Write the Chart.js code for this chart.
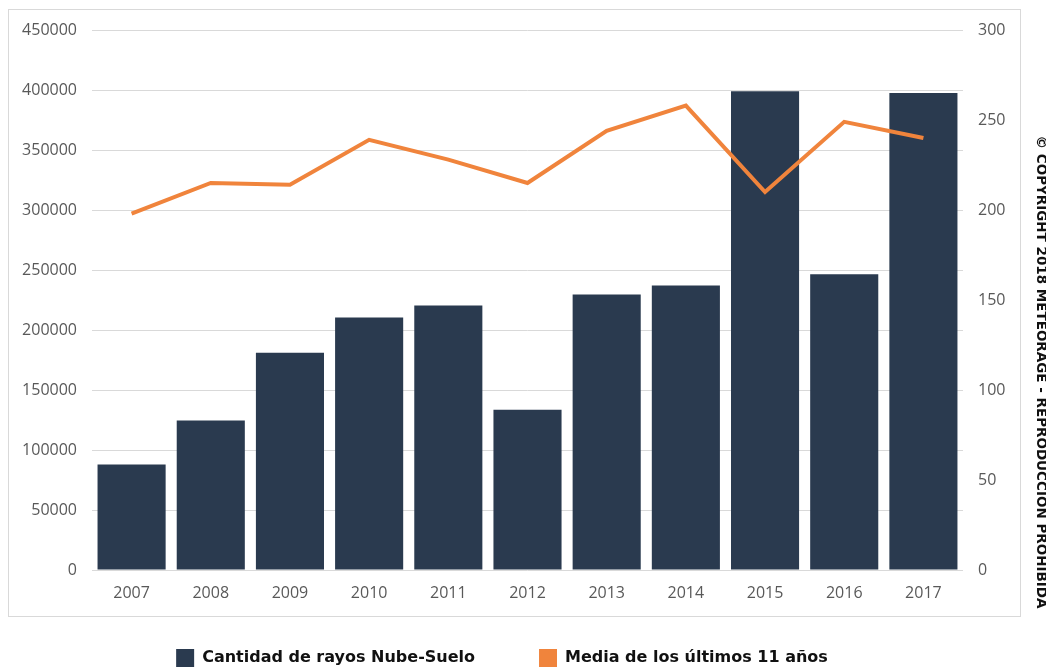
<!DOCTYPE html>
<html>
<head>
<meta charset="utf-8">
<script src="https://cdn.jsdelivr.net/npm/chart.js@4.4.1/dist/chart.umd.min.js"></script>
<style>
  html, body { margin: 0; padding: 0; background: #fff; }
  #wrap { width: 1046px; height: 667px; }
</style>
</head>
<body>
<div id="wrap"><canvas id="chart"></canvas></div>
<script>
var years = ["2007", "2008", "2009", "2010", "2011", "2012", "2013", "2014", "2015", "2016", "2017"];
var rayos = [88000, 124500, 181000, 210500, 220500, 133500, 229500, 237000, 399000, 246500, 397500];
var media = [198, 215, 214, 239, 228, 215, 244, 258, 210, 249, 240];
var copyrightText = "© COPYRIGHT 2018 METEORAGE - REPRODUCCIÓN PROHIBIDA";

var frame = {
  id: "frame",
  beforeDraw: function (chart) {
    var a = chart.chartArea;
    var c = chart.ctx;
    c.save();
    c.fillStyle = "#fff";
    c.fillRect(0, 0, chart.width, chart.height);
    c.strokeStyle = "#d9d9d9";
    c.lineWidth = 1;
    c.strokeRect(a.left - 83.5, a.top - 20.5, (a.right + 57) - (a.left - 84), (a.bottom + 46) - (a.top - 21));
    c.restore();
  },
  afterDraw: function (chart) {
    var c = chart.ctx;
    c.save();
    c.translate(1040, 372);
    c.rotate(Math.PI / 2);
    c.fillStyle = "#111";
    c.font = "bold 13.5px 'DejaVu Sans'";
    c.textAlign = "center";
    c.textBaseline = "middle";
    c.fillText(copyrightText, 0, 0);
    c.restore();
  }
};

var tickFont = { family: "'Open Sans'", size: 16 };

new Chart(document.getElementById("chart"), {
  type: "bar",
  data: {
    labels: years,
    datasets: [
      {
        type: "line",
        label: "Media de los últimos 11 años",
        data: media,
        yAxisID: "y1",
        borderColor: "#f0843c",
        backgroundColor: "#f0843c",
        borderWidth: 4,
        pointRadius: 0,
        tension: 0,
        order: 0
      },
      {
        type: "bar",
        label: "Cantidad de rayos Nube-Suelo",
        data: rayos,
        yAxisID: "y",
        backgroundColor: "#2a3a4f",
        categoryPercentage: 1,
        barPercentage: 0.86,
        order: 1
      }
    ]
  },
  options: {
    responsive: true,
    maintainAspectRatio: false,
    animation: false,
    // odd paddings: they put the legend where it sits in the original
    layout: { padding: { left: -16, right: 26, top: 30, bottom: -10 } },
    plugins: {
      legend: {
        position: "bottom",
        labels: {
          color: "#111",
          font: { family: "'DejaVu Sans'", size: 16, weight: "bold" },
          boxWidth: 18,
          boxHeight: 18,
          padding: 19,
          generateLabels: function (chart) {
            var items = Chart.defaults.plugins.legend.labels.generateLabels(chart);
            items.forEach(function (it) { it.lineWidth = 0; });
            // bars first, then an empty spacer to widen the gap, then the line
            var gap = { text: "", fillStyle: "rgba(0,0,0,0)", strokeStyle: "rgba(0,0,0,0)", lineWidth: 0, hidden: false, datasetIndex: -1 };
            return [items[1], gap, items[0]];
          }
        },
        onClick: function () {}
      },
      tooltip: { enabled: false }
    },
    scales: {
      x: {
        grid: { display: false },
        border: { display: false },
        ticks: { color: "#595959", font: tickFont, padding: 6 },
        afterFit: function (s) { s.height = 60; }
      },
      y: {
        position: "left",
        min: 0,
        max: 450000,
        ticks: {
          stepSize: 50000, color: "#595959", font: tickFont, padding: 15,
          callback: function (v) { return String(v); }
        },
        grid: { color: "#d9d9d9", drawTicks: false },
        border: { display: false },
        afterFit: function (s) { s.width = 108; }
      },
      y1: {
        position: "right",
        min: 0,
        max: 300,
        ticks: { stepSize: 50, color: "#595959", font: tickFont, padding: 15 },
        grid: { display: false, drawTicks: false },
        border: { display: false },
        afterFit: function (s) { s.width = 57; }
      }
    }
  },
  plugins: [frame]
});
</script>
</body>
</html>
